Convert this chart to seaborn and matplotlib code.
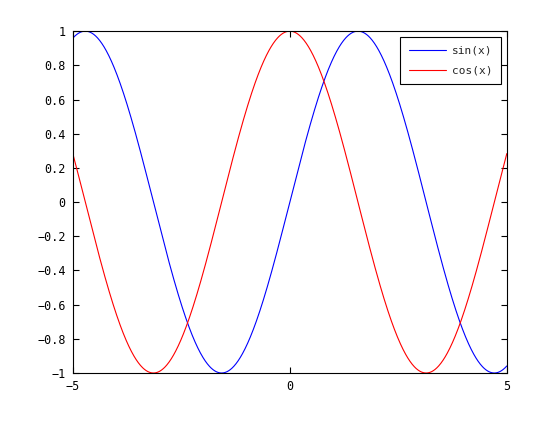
import numpy as np
import pandas as pd
import seaborn as sns
import matplotlib.pyplot as plt

# x samples and the two curves named in the legend
x_vals = np.linspace(-5, 5, 1001)
sin_vals = np.sin(x_vals)
cos_vals = np.cos(x_vals)
series_names = ['sin(x)', 'cos(x)']
line_colors = ['blue', 'red']

x_ticks = [-5, 0, 5]
y_ticks = [-1, -0.8, -0.6, -0.4, -0.2, 0, 0.2, 0.4, 0.6, 0.8, 1]
y_labels = ['\u22121', '\u22120.8', '\u22120.6', '\u22120.4', '\u22120.2', '0',
            '0.2', '0.4', '0.6', '0.8', '1']

df = pd.DataFrame({
    'x': np.concatenate([x_vals, x_vals]),
    'y': np.concatenate([sin_vals, cos_vals]),
    'series': [series_names[0]] * len(x_vals) + [series_names[1]] * len(x_vals),
})

sns.set_style('white')
plt.rcParams['font.family'] = ['DejaVu Sans Mono', 'DejaVu Sans']

fig = plt.figure(figsize=(5.6, 4.21), dpi=100)
ax = fig.add_axes([0.130, 0.114, 0.775, 0.812])

sns.lineplot(data=df, x='x', y='y', hue='series', palette=line_colors,
             linewidth=0.8, ax=ax)

ax.set_xlim(-5, 5)
ax.set_ylim(-1, 1)
ax.set_xticks(x_ticks)
ax.set_yticks(y_ticks)
ax.set_yticklabels(y_labels)
ax.set_xlabel('')
ax.set_ylabel('')
ax.tick_params(direction='in', length=4, width=0.8, labelsize=8.5, pad=5,
               top=True, right=True, bottom=True, left=True, colors='black')
for s in ax.spines.values():
    s.set_color('black')
    s.set_linewidth(0.8)

leg = ax.legend(loc='upper right', fontsize=8, handlelength=3.4,
                fancybox=False, framealpha=1, borderaxespad=0.5,
                borderpad=0.8, labelspacing=0.9, handletextpad=0.5)
leg.get_frame().set_edgecolor('black')
leg.get_frame().set_linewidth(0.8)

fig.savefig('out.png', dpi=100)
